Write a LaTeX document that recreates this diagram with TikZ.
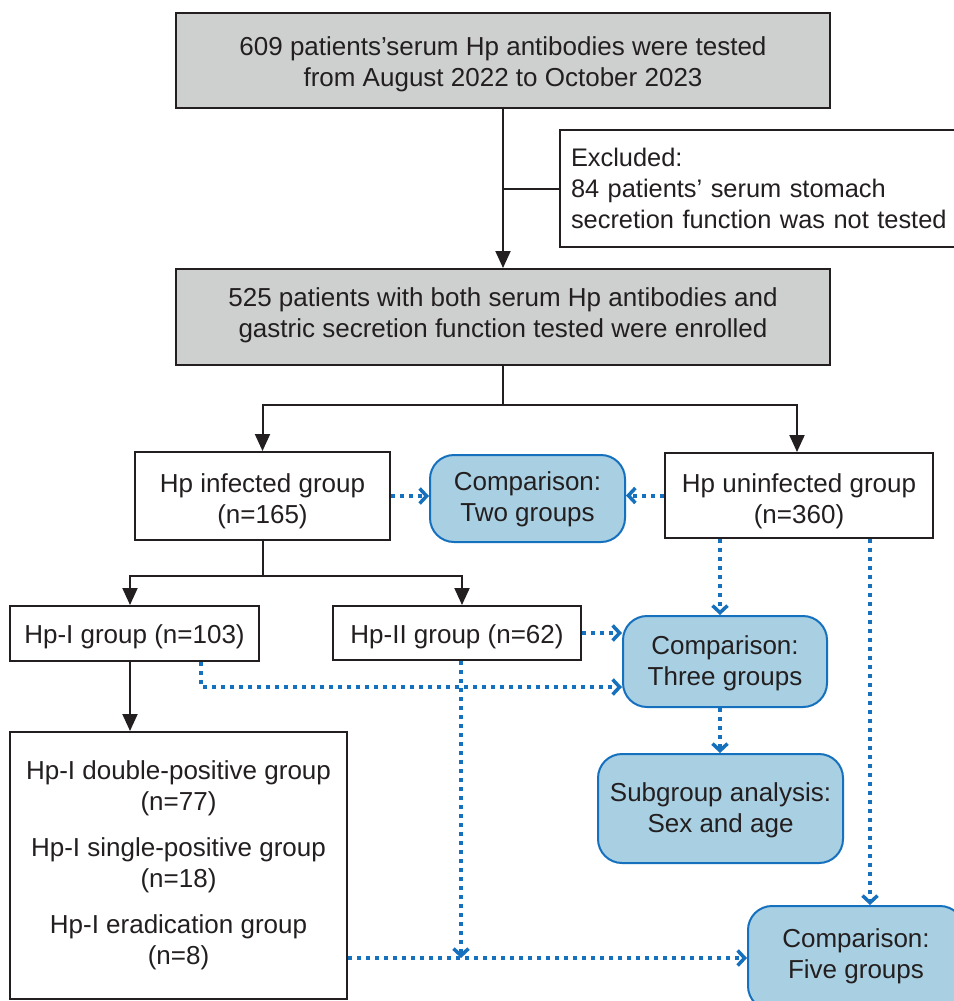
\documentclass[tikz,border=0pt]{standalone}
\usepackage{fontspec}
\setmainfont{Liberation Sans}
\usetikzlibrary{arrows.meta}
\definecolor{lineblk}{HTML}{231F20}
\definecolor{grayfill}{HTML}{CED0D0}
\definecolor{bluefill}{HTML}{A9D0E2}
\definecolor{blueline}{HTML}{1570BE}
\newcommand{\tb}[2][0pt]{\raisebox{-#1}[\height][\depth]{\begin{tabular}{@{}c@{}}#2\end{tabular}}}
\begin{document}
\begin{tikzpicture}[x=1pt,y=-1pt,
 every node/.style={font=\fontsize{26}{31}\selectfont, text=lineblk, inner sep=0pt},
 graybox/.style={draw=lineblk, line width=2pt, fill=grayfill},
 whitebox/.style={draw=lineblk, line width=2pt, fill=white},
 bluebox/.style={draw=blueline, line width=2pt, fill=bluefill, rounded corners=24pt},
 solidarrow/.style={draw=lineblk, line width=2pt, -{Triangle[length=17pt,width=15pt]}},
 solidline/.style={draw=lineblk, line width=2pt},
 dotarrow/.style={draw=blueline, line width=4pt, dash pattern=on 4pt off 5pt, -{Straight Barb[length=7pt,width=15pt,line width=3.5pt]}},
 dotline/.style={draw=blueline, line width=4pt, dash pattern=on 4pt off 5pt}]
\useasboundingbox[fill=white] (0,0) rectangle (953,1001);

\node[graybox, minimum width=654, minimum height=95] (top) at (503,60.5)
  {\tb[4pt]{609 patients’serum Hp antibodies were tested\\from August 2022 to October 2023}};
\node[whitebox, align=left, anchor=west, inner xsep=11pt, text width=400pt, minimum height=117,
      font=\fontsize{25.4}{31}\selectfont] (excl) at (559,188.5)
  {Excluded:\\84 patients’ serum stomach\\secretion function was not tested};
\node[graybox, minimum width=654, minimum height=96] (second) at (503,317)
  {\tb[-1pt]{525 patients with both serum Hp antibodies and\\gastric secretion function tested were enrolled}};
\node[whitebox, minimum width=255, minimum height=88] (inf) at (262.5,496) {\tb[6pt]{Hp infected group\\(n=165)}};
\node[bluebox, minimum width=195, minimum height=87] (two) at (527.5,498.5) {\tb[1.5pt]{Comparison:\\Two groups}};
\node[whitebox, minimum width=268, minimum height=85] (uninf) at (799,495.5) {\tb[6pt]{Hp uninfected group\\(n=360)}};
\node[whitebox, minimum width=249, minimum height=55] (hp1) at (134.5,633.5) {\tb[4pt]{Hp-I group (n=103)}};
\node[whitebox, minimum width=248, minimum height=54] (hp2) at (457,633) {\tb[4pt]{Hp-II group (n=62)}};
\node[bluebox, minimum width=204, minimum height=91] (three) at (725,661.5) {\tb[2pt]{Comparison:\\Three groups}};
\node[bluebox, minimum width=245, minimum height=109] (sub) at (720.5,808.5) {\tb[2.5pt]{Subgroup analysis:\\Sex and age}};
\node[whitebox, minimum width=337, minimum height=267, align=center] (big) at (178.5,865.5)
  {Hp-I double-positive group\\(n=77)\\[15pt]Hp-I single-positive group\\(n=18)\\[15pt]Hp-I eradication group\\(n=8)};
\node[bluebox, minimum width=216, minimum height=104] (five) at (856,958) {\tb[-1.5pt]{Comparison:\\Five groups}};

\draw[solidarrow] (top.south) -- (second.north);
\draw[solidline] (excl.west) -- (excl.west -| top.south);
\draw[solidline] (second.south) -- ++(0,39) coordinate (split1);
\draw[solidarrow] (split1) -| (inf.north);
\draw[solidarrow] (split1) -| ([xshift=-2pt]uninf.north);
\draw[dotarrow] (inf.east) -- (inf.east -| two.west);
\draw[dotarrow] (uninf.west) -- (uninf.west -| two.east);
\draw[solidline] (inf.south) -- ++(0,35) coordinate (split2);
\draw[solidarrow] (split2) -| ([xshift=-4.5pt]hp1.north);
\draw[solidarrow] (split2) -| ([xshift=5pt]hp2.north);
\draw[solidarrow] ([xshift=-4.5pt]hp1.south) -- ([xshift=-4.5pt]hp1.south |- big.north);
\draw[dotarrow] ([xshift=-5pt]three.north |- uninf.south) -- ([xshift=-5pt]three.north);
\draw[dotarrow] (hp2.east) -- (hp2.east -| three.west);
\draw[dotarrow] ([xshift=66.5pt]hp1.south) |- ([yshift=-25.5pt]three.west);
\draw[dotarrow] ([xshift=-5pt]three.south) -- ([xshift=-5pt]three.south |- sub.north);
\coordinate (bj) at ([yshift=-92.5pt]big.east);
\draw[dotarrow] (bj) -- (bj -| five.west);
\draw[dotarrow] ([xshift=4pt]hp2.south) -- ([xshift=4pt]hp2.south |- bj);
\draw[dotarrow] ([xshift=71pt]uninf.south) -- ([xshift=71pt]uninf.south |- five.north);
\end{tikzpicture}
\end{document}
